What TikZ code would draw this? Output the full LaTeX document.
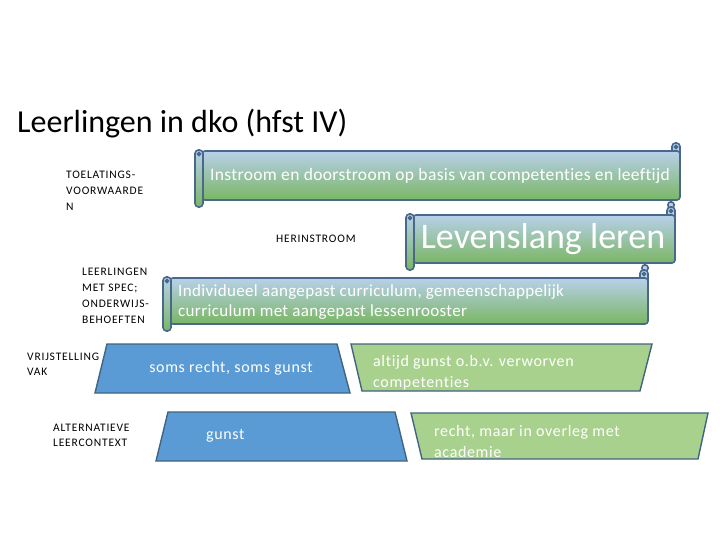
\documentclass[tikz,border=0pt]{standalone}
\usepackage{fontspec}
\setmainfont{Carlito}[Ligatures=NoCommon]
\newfontfamily\lblfont[LetterSpace=7,Ligatures=NoCommon]{Carlito}
\newfontfamily\txtfont[LetterSpace=2,Ligatures=NoCommon]{Carlito}
\newfontfamily\trfont[LetterSpace=4,Ligatures=NoCommon]{Carlito}
\definecolor{sTop}{RGB}{184,208,234}
\definecolor{sBot}{RGB}{122,182,100}
\definecolor{sBorder}{RGB}{72,104,140}
\definecolor{tBlue}{RGB}{91,155,213}
\definecolor{tGreen}{RGB}{169,209,142}
\definecolor{tBorder}{RGB}{65,100,130}
\newcommand\myscroll[4]{%
  % #1 L, #2 T, #3 R, #4 B
  \draw[sbord, fill=sTop, rounded corners=3.5] (#3-8,#2+5) -- (#3-8,#2-8) -- (#3,#2-8) -- (#3,#2+5);
  \draw[sbord] (#3-4,#2-4) circle (1.6);
  \draw[sbord, top color=sTop, bottom color=sBot, rounded corners=3] (#1,#2) rectangle (#3,#4);
  \draw[sbord, top color=sTop, bottom color=sBot, rounded corners=3.5] (#1-7,#2-1) rectangle (#1+1,#4+7);
  \draw[sbord] (#1-3,#2+3) circle (1.6);
}
\newcommand\mycurl[2]{\draw[sbord, fill=sTop] (#1,#2) circle (3.2);}
\tikzset{
  sbord/.style={draw=sBorder, line width=1.6pt},
  tbord/.style={draw=tBorder, line width=1.4pt},
  lbl/.style={font=\lblfont\fontsize{11.5}{16}\selectfont, align=left, anchor=west, inner sep=0pt, text=black},
  wtxt/.style={text=white, inner sep=0pt},
}
\begin{document}
\begin{tikzpicture}[x=1pt, y=-1pt]
\useasboundingbox (0,0) rectangle (720,540);
\fill[white] (0,0) rectangle (720,540);

\node[anchor=base west, inner sep=0pt, font=\fontsize{32}{36}\selectfont] (title) at (17,133) {Leerlingen in dko (hfst IV)};

% labels
\node[lbl] (toel) at (66,191) {TOELATINGS-\\VOORWAARDE\\N};
\node[lbl] (herin) at (276,239) {HERINSTROOM};
\node[lbl] (spec) at (82,296) {LEERLINGEN\\MET SPEC;\\ONDERWIJS-\\BEHOEFTEN};
\node[lbl, font=\lblfont\fontsize{11.5}{15}\selectfont] (vrij) at (27,364.5) {VRIJSTELLING\\VAK};
\node[lbl, font=\lblfont\fontsize{11.5}{15}\selectfont] (alt) at (53,435.5) {ALTERNATIEVE\\LEERCONTEXT};

% scrolls
\mycurl{671}{205}
\myscroll{202}{151}{680}{200}
\node[wtxt, font=\txtfont\fontsize{17.5}{20}\selectfont] (s1) at (440,176) {Instroom en doorstroom op basis van competenties en leeftijd};

\mycurl{645}{268}
\myscroll{413}{215}{675}{263}
\node[wtxt, font=\fontsize{36}{40}\selectfont] (s2) at (543,239) {Levenslang leren};

\myscroll{170}{278}{648}{324}
\node[wtxt, font=\txtfont\fontsize{17}{20.5}\selectfont, align=left, anchor=west] (s3) at (178,302) {Individueel aangepast curriculum, gemeenschappelijk\\curriculum met aangepast lessenrooster};

% trapezoids
\draw[tbord, fill=tBlue] (107,344) -- (337,344) -- (350,393) -- (95,393) -- cycle;
\node[wtxt, font=\trfont\fontsize{16}{20}\selectfont] (t1) at (231,368) {soms recht, soms gunst};

\draw[tbord, fill=tGreen] (351,344) -- (652,344) -- (640,391) -- (362,391) -- cycle;
\node[wtxt, font=\trfont\fontsize{16}{21}\selectfont, align=left, anchor=west] (t2) at (373,372.5) {altijd gunst o.b.v. verworven\\competenties};

\draw[tbord, fill=tBlue] (168,412) -- (395,412) -- (407,461) -- (156,461) -- cycle;
\node[wtxt, font=\trfont\fontsize{16}{20}\selectfont, anchor=west] (t3) at (206,436) {gunst};

\draw[tbord, fill=tGreen] (411,413) -- (708,413) -- (698,459) -- (422,459) -- cycle;
\node[wtxt, font=\trfont\fontsize{16}{21}\selectfont, align=left, anchor=west] (t4) at (434,441.5) {recht, maar in overleg met\\academie};
\end{tikzpicture}
\end{document}
